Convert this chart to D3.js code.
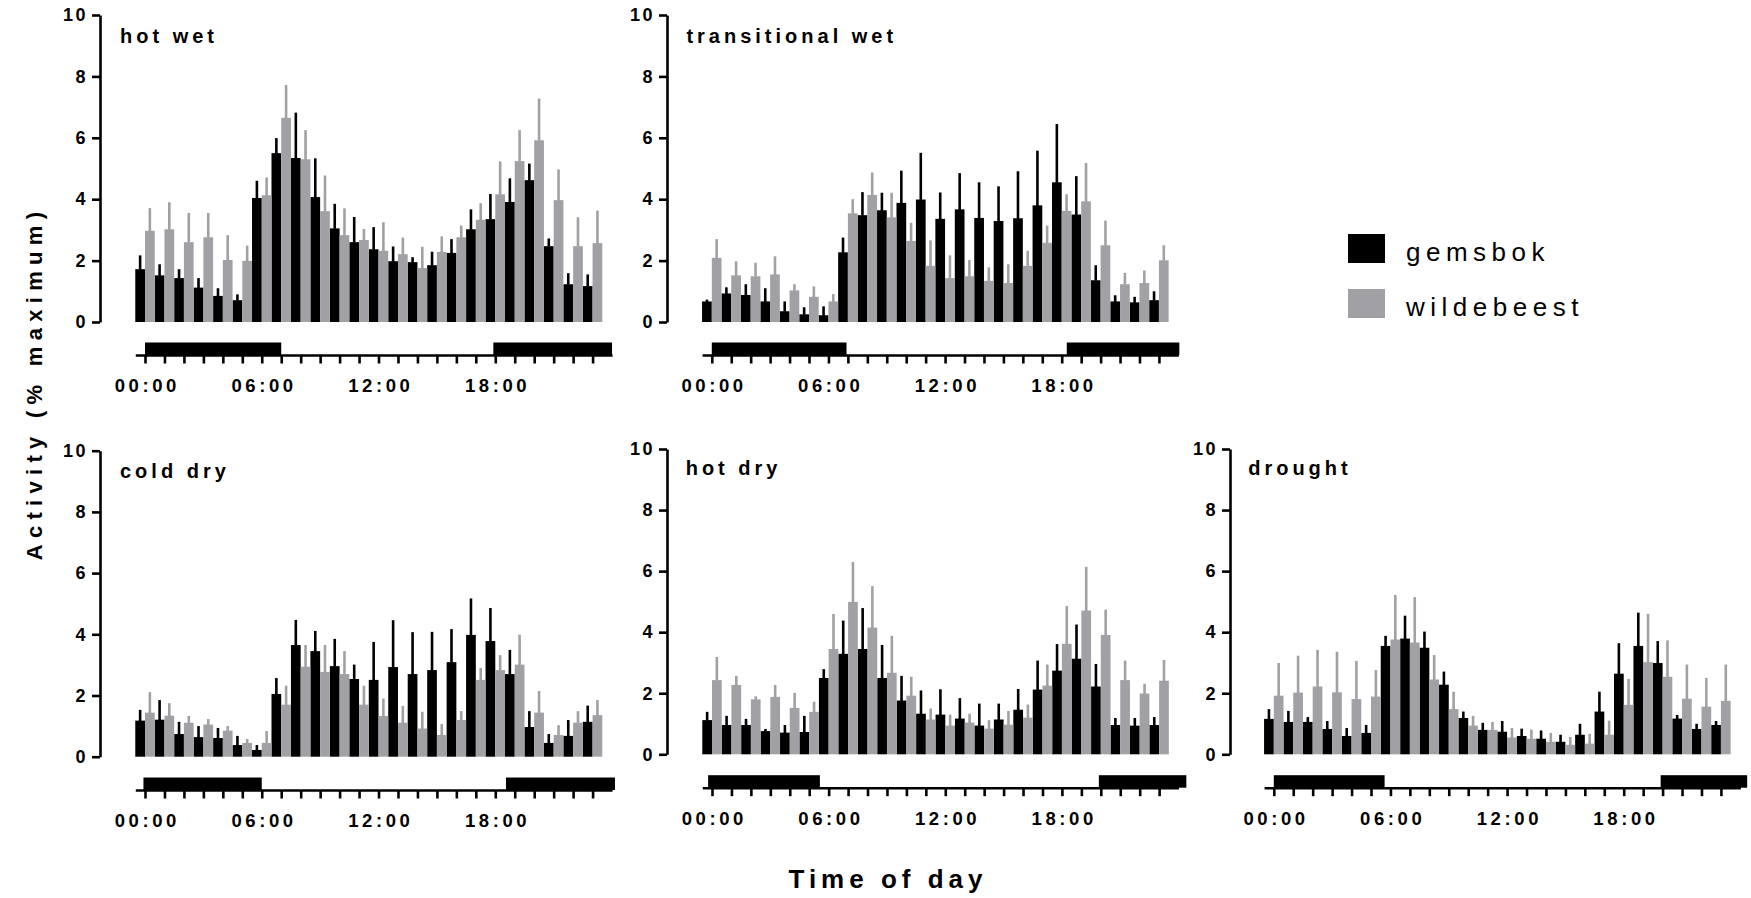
<!DOCTYPE html>
<html>
<head>
<meta charset="utf-8">
<script src="https://cdn.jsdelivr.net/npm/d3@7"></script>
<style>
  html, body { margin: 0; padding: 0; background: #fff; }
  svg { display: block; font-family: "Liberation Sans", Arial, sans-serif; }
</style>
</head>
<body>
<svg id="chart" width="1751" height="898"></svg>
<script>
// ---------------- DATA ----------------
const hours = d3.range(24);
const yTickValues = [0, 2, 4, 6, 8, 10];
const xTickLabels = { 0: "00:00", 6: "06:00", 12: "12:00", 18: "18:00" };
const seriesNames = ["gemsbok", "wildebeest"];
const panelNames = ["hot wet", "transitional wet", "cold dry", "hot dry", "drought"];

// hot wet
const hotWetGemsbok    = [1.72,1.52,1.43,1.12,0.85,0.71,4.04,5.50,5.34,4.07,3.05,2.60,2.37,1.98,1.95,1.85,2.25,3.02,3.35,3.91,4.62,2.47,1.23,1.17];
const hotWetGemsbokSem = [0.45,0.36,0.29,0.31,0.25,0.19,0.56,0.49,1.48,1.26,0.80,0.82,0.72,0.48,0.16,0.44,0.45,0.65,0.82,0.77,0.54,0.25,0.36,0.38];
const hotWetWildebeest    = [2.97,3.02,2.60,2.76,2.02,1.99,4.13,6.65,5.30,3.61,2.83,2.67,2.32,2.21,1.76,2.28,2.76,3.33,4.16,5.24,5.92,3.97,2.47,2.57];
const hotWetWildebeestSem = [0.74,0.88,0.95,0.79,0.81,0.50,0.58,1.07,0.95,1.16,0.87,0.36,0.93,0.54,0.69,0.51,0.38,0.54,1.07,1.01,1.36,1.00,0.94,1.06];

// transitional wet
const transWetGemsbok    = [0.67,0.93,0.88,0.67,0.35,0.25,0.22,2.27,3.48,3.64,3.88,3.99,3.36,3.67,3.39,3.29,3.38,3.80,4.55,3.50,1.36,0.67,0.64,0.71];
const transWetGemsbokSem = [0.06,0.20,0.35,0.43,0.32,0.23,0.29,0.48,0.75,0.57,1.05,1.52,0.86,1.18,1.16,1.13,1.53,1.78,1.90,1.25,0.49,0.20,0.18,0.29];
const transWetWildebeest    = [2.09,1.52,1.49,1.55,1.03,0.82,0.67,3.54,4.14,3.41,2.64,1.83,1.43,1.49,1.34,1.27,1.83,2.58,3.62,3.93,2.50,1.23,1.27,2.01];
const transWetWildebeestSem = [0.61,0.46,0.44,0.59,0.20,0.34,0.24,0.46,0.73,0.80,0.59,0.83,0.74,0.53,0.44,0.61,0.49,0.56,0.54,1.25,0.80,0.37,0.41,0.49];

// cold dry
const coldDryGemsbok    = [1.18,1.21,0.74,0.64,0.61,0.38,0.22,2.05,3.65,3.45,2.96,2.54,2.51,2.93,2.70,2.83,3.09,3.98,3.78,2.70,0.97,0.45,0.68,1.14];
const coldDryGemsbokSem = [0.35,0.64,0.40,0.36,0.33,0.30,0.16,0.52,0.82,0.66,0.89,0.47,1.24,1.53,1.37,1.25,1.08,1.19,1.08,0.79,0.52,0.29,0.52,0.53];
const coldDryWildebeest    = [1.44,1.34,1.11,1.05,0.85,0.45,0.45,1.70,2.94,2.77,2.70,1.70,1.33,1.11,0.92,0.71,1.20,2.51,2.83,3.01,1.44,0.71,1.11,1.36];
const coldDryWildebeestSem = [0.67,0.41,0.22,0.18,0.15,0.13,0.39,0.62,0.71,0.88,0.75,0.62,0.57,0.55,0.55,0.36,0.29,0.39,0.49,0.98,0.71,0.32,0.38,0.49];

// hot dry
const hotDryGemsbok    = [1.12,0.96,0.96,0.76,0.71,0.73,2.50,3.29,3.45,2.50,1.76,1.33,1.30,1.17,0.94,1.14,1.46,2.12,2.74,3.13,2.22,0.96,0.94,0.96];
const hotDryGemsbokSem = [0.27,0.30,0.20,0.07,0.25,0.53,0.29,1.09,1.34,1.08,0.81,0.76,0.83,0.67,0.72,0.52,0.68,0.95,0.87,1.12,0.74,0.23,0.25,0.26];
const hotDryWildebeest    = [2.43,2.27,1.80,1.88,1.52,1.39,3.45,4.99,4.15,2.67,1.92,1.14,0.94,1.04,0.84,0.97,1.20,2.25,3.62,4.71,3.91,2.43,1.99,2.41];
const hotDryWildebeestSem = [0.76,0.30,0.10,0.39,0.49,0.33,1.15,1.31,1.36,1.21,0.62,0.36,0.36,0.29,0.28,0.45,0.43,0.69,1.24,1.43,0.83,0.64,0.32,0.68];

// drought
const droughtGemsbok    = [1.16,1.06,1.06,0.83,0.60,0.70,3.55,3.79,3.49,2.28,1.19,0.80,0.74,0.60,0.51,0.41,0.64,1.40,2.64,3.55,2.99,1.17,0.83,0.96];
const droughtGemsbokSem = [0.32,0.36,0.16,0.26,0.26,0.26,0.33,0.75,0.53,0.43,0.21,0.23,0.35,0.24,0.27,0.23,0.36,0.65,1.00,1.09,0.72,0.12,0.17,0.13];
const droughtWildebeest    = [1.92,2.02,2.22,2.03,1.81,1.89,3.76,3.66,2.45,1.48,0.94,0.80,0.55,0.51,0.41,0.31,0.35,0.64,1.62,3.02,2.54,1.82,1.56,1.75];
const droughtWildebeestSem = [1.07,1.21,1.20,1.33,1.25,0.87,1.46,1.49,0.80,0.57,0.32,0.26,0.31,0.30,0.29,0.26,0.32,0.46,0.85,1.58,1.19,1.12,0.94,1.19];

// night periods (hours)
const hotWetNight   = [[0, 7], [17.9, 24]];
const transWetNight = [[0, 6.93], [18.26, 24.05]];
const coldDryNight  = [[-0.08, 6], [18.55, 24.15]];
const hotDryNight   = [[-0.2, 5.55], [19.9, 24.4]];
const droughtNight  = [[0, 5.7], [19.9, 24.35]];

// ---------------- LAYOUT / STYLE ----------------
const colors = { gemsbok: "#000000", wildebeest: "#a1a1a5" };
const layout = [
  { axisX: 100,    tick0: 145,    slot: 19.46, y0: 322,   y10: 15,    axisY: 355,   titleX: 120,    titleY: 42.7 },
  { axisX: 667,    tick0: 711.8,  slot: 19.44, y0: 322,   y10: 15,    axisY: 355,   titleX: 686.4,  titleY: 43 },
  { axisX: 100,    tick0: 145,    slot: 19.46, y0: 756.7, y10: 450.7, axisY: 790,   titleX: 120,    titleY: 478 },
  { axisX: 667,    tick0: 712,    slot: 19.44, y0: 754.3, y10: 449,   axisY: 787.7, titleX: 685.7,  titleY: 475 },
  { axisX: 1230,   tick0: 1273.8, slot: 19.44, y0: 754.3, y10: 449,   axisY: 787.7, titleX: 1248.2, titleY: 475 }
];

const panels = [
  { name: panelNames[0], g: hotWetGemsbok,   gs: hotWetGemsbokSem,   w: hotWetWildebeest,   ws: hotWetWildebeestSem,   night: hotWetNight },
  { name: panelNames[1], g: transWetGemsbok, gs: transWetGemsbokSem, w: transWetWildebeest, ws: transWetWildebeestSem, night: transWetNight },
  { name: panelNames[2], g: coldDryGemsbok,  gs: coldDryGemsbokSem,  w: coldDryWildebeest,  ws: coldDryWildebeestSem,  night: coldDryNight },
  { name: panelNames[3], g: hotDryGemsbok,   gs: hotDryGemsbokSem,   w: hotDryWildebeest,   ws: hotDryWildebeestSem,   night: hotDryNight },
  { name: panelNames[4], g: droughtGemsbok,  gs: droughtGemsbokSem,  w: droughtWildebeest,  ws: droughtWildebeestSem,  night: droughtNight }
];

const svg = d3.select("#chart");
const AX_W = 2.6;

panels.forEach((p, i) => {
  const L = layout[i];
  const x = d3.scaleLinear().domain([-0.5, 24])
    .range([L.tick0 - 0.5 * L.slot, L.tick0 + 24 * L.slot]);
  const y = d3.scaleLinear().domain([0, 10]).range([L.y0, L.y10]);
  const g = svg.append("g").attr("class", "panel");

  // bars
  const rows = hours.map(h => ({ h, gv: p.g[h], gs: p.gs[h], wv: p.w[h], ws: p.ws[h] }));
  const barSets = [
    { key: "gemsbok", off: -0.5, val: d => d.gv, sem: d => d.gs },
    { key: "wildebeest", off: 0, val: d => d.wv, sem: d => d.ws }
  ];
  barSets.forEach(s => {
    const gg = g.append("g").attr("fill", colors[s.key]).attr("stroke", colors[s.key]);
    gg.selectAll("rect").data(rows).join("rect")
      .attr("x", d => x(d.h + s.off))
      .attr("width", d => x(d.h + s.off + 0.5) - x(d.h + s.off))
      .attr("y", d => y(s.val(d)))
      .attr("height", d => y(0) - y(s.val(d)))
      .attr("stroke", "none");
    gg.selectAll("line").data(rows).join("line")
      .attr("x1", d => x(d.h + s.off + 0.25))
      .attr("x2", d => x(d.h + s.off + 0.25))
      .attr("y1", d => y(s.val(d)) + 0.5)
      .attr("y2", d => y(s.val(d) + s.sem(d)))
      .attr("stroke-width", 2.6);
  });

  // y axis
  const yAxis = d3.axisLeft(y).tickValues(yTickValues).tickSize(8).tickSizeOuter(0).tickPadding(6);
  const ya = g.append("g").attr("transform", `translate(${L.axisX},0)`).call(yAxis);
  ya.selectAll("path, line").attr("stroke", "#000").attr("stroke-width", AX_W);
  ya.selectAll("text").attr("font-size", 18).attr("font-weight", "bold")
    .attr("fill", "#000").attr("letter-spacing", 2.5).attr("dx", 2);

  // night bars
  g.append("g").selectAll("rect").data(p.night).join("rect")
    .attr("x", d => x(d[0]))
    .attr("width", d => x(d[1]) - x(d[0]))
    .attr("y", L.axisY - 12.5)
    .attr("height", 12.5)
    .attr("fill", "#000");

  // x axis (hour ticks)
  const xAxis = d3.axisBottom(x).tickValues(hours).tickSize(8.5).tickSizeOuter(0)
    .tickFormat(h => xTickLabels[h] || "").tickPadding(15.5);
  const xa = g.append("g").attr("transform", `translate(0,${L.axisY})`).call(xAxis);
  xa.selectAll("path, line").attr("stroke", "#000").attr("stroke-width", AX_W);
  xa.selectAll("text").attr("font-size", 18.5).attr("font-weight", "bold")
    .attr("fill", "#000").attr("letter-spacing", 3.6).attr("dx", 1.8);

  // panel title
  g.append("text").attr("x", L.titleX).attr("y", L.titleY)
    .attr("font-size", 20).attr("font-weight", "bold").attr("letter-spacing", 4)
    .text(p.name);
});

// legend
const legendY = [234, 289];
seriesNames.forEach((s, i) => {
  svg.append("rect").attr("x", 1348).attr("y", legendY[i]).attr("width", 37).attr("height", 29)
    .attr("fill", colors[s]);
  svg.append("text").attr("x", 1406).attr("y", legendY[i] + 27)
    .attr("font-size", 26).attr("letter-spacing", 5.5).attr("fill", "#000").text(s);
});

// axis titles
svg.append("text").attr("x", 888).attr("y", 888).attr("text-anchor", "middle")
  .attr("font-size", 26).attr("font-weight", "bold").attr("letter-spacing", 5)
  .text("Time of day");
svg.append("text").attr("transform", "translate(42,383) rotate(-90)").attr("text-anchor", "middle")
  .attr("font-size", 22).attr("font-weight", "bold").attr("letter-spacing", 6.3)
  .text("Activity (% maximum)");
</script>
</body>
</html>
